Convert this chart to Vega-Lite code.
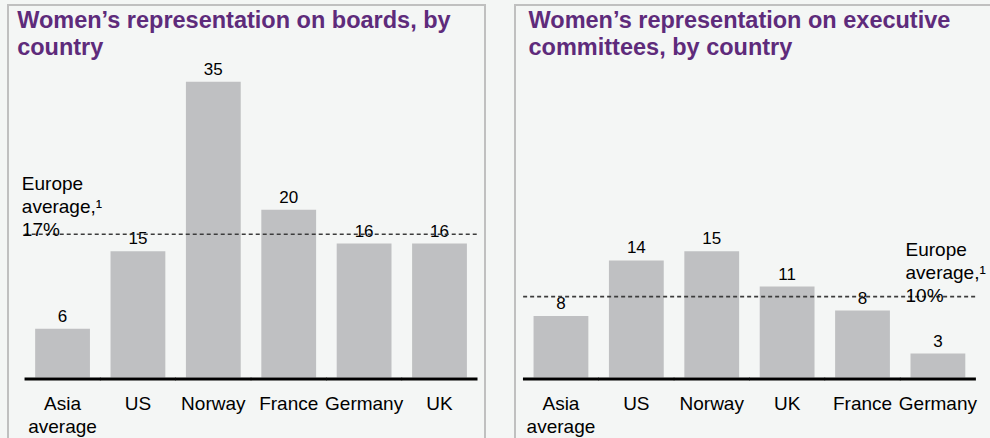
{
  "$schema": "https://vega.github.io/schema/vega-lite/v6.json",
  "background": "#f4f6f5",
  "padding": {"left": 7, "top": 4, "right": 5, "bottom": 5},
  "spacing": 28,
  "config": {
    "font": "Liberation Sans",
    "view": {"stroke": "#c0c0c0", "strokeWidth": 2, "fill": "#f4f6f5"}
  },
  "datasets": {
    "boards": [
      {"country": "Asia average", "value": 5.8, "label": "6"},
      {"country": "US", "value": 15, "label": "15"},
      {"country": "Norway", "value": 35.1, "label": "35"},
      {"country": "France", "value": 19.9, "label": "20"},
      {"country": "Germany", "value": 15.9, "label": "16"},
      {"country": "UK", "value": 15.9, "label": "16"}
    ],
    "boardsAvg": [
      {"from": "Asia average", "to": "UK", "anchor": "Asia average", "value": 17, "text": "Europe\naverage,¹\n17%"}
    ],
    "boardsTitle": [
      {"anchor": "Asia average", "title": "Women’s representation on boards, by\ncountry"}
    ],
    "exec": [
      {"country": "Asia average", "value": 7.3, "label": "8"},
      {"country": "US", "value": 13.9, "label": "14"},
      {"country": "Norway", "value": 15, "label": "15"},
      {"country": "UK", "value": 10.8, "label": "11"},
      {"country": "France", "value": 7.95, "label": "8"},
      {"country": "Germany", "value": 2.85, "label": "3"}
    ],
    "execAvg": [
      {"from": "Asia average", "to": "Germany", "anchor": "Germany", "value": 9.6, "text": "Europe\naverage,¹\n10%"}
    ],
    "execTitle": [
      {"anchor": "Asia average", "title": "Women’s representation on executive\ncommittees, by country"}
    ]
  },
  "hconcat": [
    {
      "width": 477,
      "height": 440,
      "layer": [
        {
          "data": {"name": "boards"},
          "mark": {"type": "bar", "color": "#bfc0c2"},
          "encoding": {
            "x": {"field": "country", "type": "nominal",
              "scale": {"domain": ["Asia average", "US", "Norway", "France", "Germany", "UK"], "paddingInner": 0.273, "paddingOuter": 0.3, "align": 0.6},
              "axis": {"orient": "bottom", "offset": -65.5, "domain": false, "ticks": false, "tickSize": 0, "title": null, "labelAngle": 0,
                "labelFontSize": 19, "labelColor": "#000000", "labelLineHeight": 23, "labelBaseline": "alphabetic", "labelPadding": 29.5,
                "labelOverlap": false, "labelLimit": 0,
                "labelExpr": "datum.value == 'Asia average' ? ['Asia', 'average'] : datum.value"}},
            "y": {"field": "value", "type": "quantitative", "scale": {"domain": [-8, 44.2], "nice": false, "zero": false}, "axis": null},
            "y2": {"datum": 0}
          }
        },
        {
          "data": {"name": "boards"},
          "mark": {"type": "text", "fontSize": 17, "color": "#000000", "baseline": "alphabetic", "dy": -7},
          "encoding": {
            "x": {"field": "country", "type": "nominal"},
            "y": {"field": "value", "type": "quantitative"},
            "text": {"field": "label"}
          }
        },
        {
          "data": {"name": "boards"},
          "mark": {"type": "tick", "color": "#000000", "thickness": 3, "size": 76, "yOffset": 1.5, "opacity": 1},
          "encoding": {
            "x": {"field": "country", "type": "nominal"},
            "y": {"datum": 0}
          }
        },
        {
          "data": {"name": "boardsAvg"},
          "mark": {"type": "rule", "color": "#3c3c3c", "strokeWidth": 1.6, "strokeDash": [4, 3]},
          "encoding": {
            "x": {"field": "from", "type": "nominal", "bandPosition": -0.19},
            "x2": {"field": "to", "bandPosition": 1.19},
            "y": {"field": "value", "type": "quantitative"}
          }
        },
        {
          "data": {"name": "boardsAvg"},
          "mark": {"type": "text", "fontSize": 19, "color": "#000000", "align": "left", "baseline": "alphabetic", "lineBreak": "\n", "lineHeight": 23, "dx": -13.3, "dy": -44.3},
          "encoding": {
            "x": {"field": "anchor", "type": "nominal", "bandPosition": 0},
            "y": {"field": "value", "type": "quantitative"},
            "text": {"field": "text"}
          }
        },
        {
          "data": {"name": "boardsTitle"},
          "mark": {"type": "text", "fontSize": 23.5, "fontWeight": "bold", "color": "#5e2b7b", "align": "left", "baseline": "alphabetic", "lineBreak": "\n", "lineHeight": 27, "dx": -18, "dy": 23},
          "encoding": {
            "x": {"field": "anchor", "type": "nominal", "bandPosition": 0},
            "y": {"datum": 44.2},
            "text": {"field": "title"}
          }
        }
      ]
    },
    {
      "width": 477,
      "height": 440,
      "layer": [
        {
          "data": {"name": "exec"},
          "mark": {"type": "bar", "color": "#bfc0c2"},
          "encoding": {
            "x": {"field": "country", "type": "nominal",
              "scale": {"domain": ["Asia average", "US", "Norway", "UK", "France", "Germany"], "paddingInner": 0.273, "paddingOuter": 0.3, "align": 0.41},
              "axis": {"orient": "bottom", "offset": -65.5, "domain": false, "ticks": false, "tickSize": 0, "title": null, "labelAngle": 0,
                "labelFontSize": 19, "labelColor": "#000000", "labelLineHeight": 23, "labelBaseline": "alphabetic", "labelPadding": 29.5,
                "labelOverlap": false, "labelLimit": 0,
                "labelExpr": "datum.value == 'Asia average' ? ['Asia', 'average'] : datum.value"}},
            "y": {"field": "value", "type": "quantitative", "scale": {"domain": [-8, 44.2], "nice": false, "zero": false}, "axis": null},
            "y2": {"datum": 0}
          }
        },
        {
          "data": {"name": "exec"},
          "mark": {"type": "text", "fontSize": 17, "color": "#000000", "baseline": "alphabetic", "dy": -7},
          "encoding": {
            "x": {"field": "country", "type": "nominal"},
            "y": {"field": "value", "type": "quantitative"},
            "text": {"field": "label"}
          }
        },
        {
          "data": {"name": "exec"},
          "mark": {"type": "tick", "color": "#000000", "thickness": 3, "size": 76, "yOffset": 1.5, "opacity": 1},
          "encoding": {
            "x": {"field": "country", "type": "nominal"},
            "y": {"datum": 0}
          }
        },
        {
          "data": {"name": "execAvg"},
          "mark": {"type": "rule", "color": "#3c3c3c", "strokeWidth": 1.6, "strokeDash": [4, 3]},
          "encoding": {
            "x": {"field": "from", "type": "nominal", "bandPosition": -0.19},
            "x2": {"field": "to", "bandPosition": 1.19},
            "y": {"field": "value", "type": "quantitative"}
          }
        },
        {
          "data": {"name": "execAvg"},
          "mark": {"type": "text", "fontSize": 19, "color": "#000000", "align": "left", "baseline": "alphabetic", "lineBreak": "\n", "lineHeight": 23, "dx": -5, "dy": -41},
          "encoding": {
            "x": {"field": "anchor", "type": "nominal", "bandPosition": 0},
            "y": {"field": "value", "type": "quantitative"},
            "text": {"field": "text"}
          }
        },
        {
          "data": {"name": "execTitle"},
          "mark": {"type": "text", "fontSize": 23.5, "fontWeight": "bold", "color": "#5e2b7b", "align": "left", "baseline": "alphabetic", "lineBreak": "\n", "lineHeight": 27, "dx": -5, "dy": 23},
          "encoding": {
            "x": {"field": "anchor", "type": "nominal", "bandPosition": 0},
            "y": {"datum": 44.2},
            "text": {"field": "title"}
          }
        }
      ]
    }
  ]
}
